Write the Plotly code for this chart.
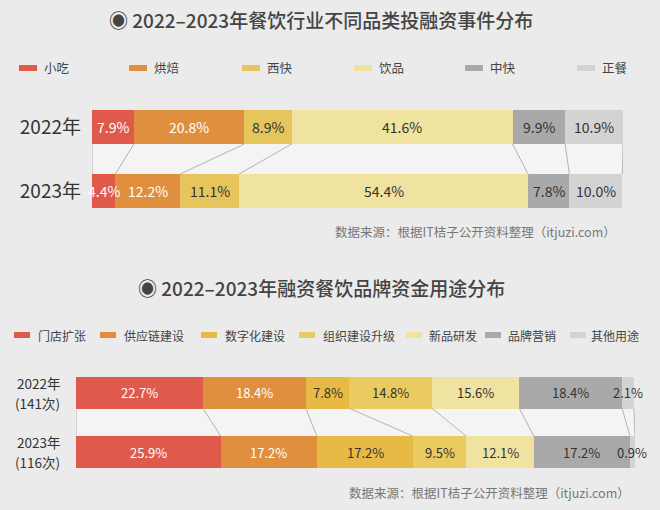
import plotly.graph_objects as go

# ---------------- data ----------------
years1 = ["2022年", "2023年"]
cats1 = ["小吃", "烘焙", "西快", "饮品", "中快", "正餐"]
vals1_2022 = [7.9, 20.8, 8.9, 41.6, 9.9, 10.9]
vals1_2023 = [4.4, 12.2, 11.1, 54.4, 7.8, 10.0]

years2 = ["2022年", "2023年"]
counts2 = ["(141次)", "(116次)"]
cats2 = ["门店扩张", "供应链建设", "数字化建设", "组织建设升级", "新品研发", "品牌营销", "其他用途"]
vals2_2022 = [22.7, 18.4, 7.8, 14.8, 15.6, 18.4, 2.1]
vals2_2023 = [25.9, 17.2, 17.2, 9.5, 12.1, 17.2, 0.9]

title1 = "◉ 2022–2023年餐饮行业不同品类投融资事件分布"
title2 = "◉ 2022–2023年融资餐饮品牌资金用途分布"
source = "数据来源：根据IT桔子公开资料整理（itjuzi.com）"

# ---------------- styles ----------------
W, H = 660, 510
FONT = "Noto Sans CJK SC"
BG = "#ebebeb"
BAND = "#f4f4f4"
LINE = "#b3b3b3"
colors1 = ["#df5a4b", "#e08f3e", "#e6c55c", "#efe39f", "#a9a9a9", "#d3d3d3"]
colors2 = ["#df5a4b", "#e08f3e", "#e7b945", "#eacb60", "#f0e2a0", "#a9a9a9", "#d3d3d3"]
txt1 = ["white", "white", "#333", "#333", "#333", "#333"]
txt2 = ["white", "white", "#333", "#333", "#333", "#333", "#333"]
BW = 0.53


def px(x):
    return x / W


def py(y):
    return 1 - y / H


fig = go.Figure()
shapes = []
annotations = []


def build(years, cats, v_a, v_b, colors, tcolors, xa, ya, fsize):
    for i, c in enumerate(cats):
        fig.add_trace(go.Bar(
            y=years, x=[v_a[i], v_b[i]], orientation="h", name=c,
            marker=dict(color=colors[i], line=dict(width=0)),
            width=BW, xaxis=xa, yaxis=ya, showlegend=False,
            hovertemplate=c + " %{y}: %{x}%<extra></extra>",
        ))
    for row, vals in enumerate([v_a, v_b]):
        cum = 0
        for i, v in enumerate(vals):
            annotations.append(dict(
                x=cum + v / 2, y=row, xref=xa, yref=ya,
                text=f"{v:.1f}%", showarrow=False,
                font=dict(family=FONT, size=fsize, color=tcolors[i]),
            ))
            cum += v
    shapes.append(dict(type="rect", xref=xa, yref=ya, x0=0, x1=100,
                       y0=BW / 2, y1=1 - BW / 2, fillcolor=BAND,
                       line=dict(width=0), layer="below"))
    ca, cb = [0], [0]
    for v in v_a:
        ca.append(ca[-1] + v)
    for v in v_b:
        cb.append(cb[-1] + v)
    for a, b in zip(ca, cb):
        shapes.append(dict(type="line", xref=xa, yref=ya, x0=a, x1=b,
                           y0=BW / 2, y1=1 - BW / 2,
                           line=dict(color=LINE, width=1)))


build(years1, cats1, vals1_2022, vals1_2023, colors1, txt1, "x", "y", 14)
build(years2, cats2, vals2_2022, vals2_2023, colors2, txt2, "x2", "y2", 13)

# two-line year labels of the second chart
for row, (yr, cnt) in enumerate(zip(years2, counts2)):
    for text, shift in [(yr, 10), (cnt, -10)]:
        annotations.append(dict(x=px(62), y=row, xref="paper", yref="y2", yshift=shift,
                                text=text, showarrow=False, xanchor="right", yanchor="middle",
                                font=dict(family=FONT, size=13.5, color="#333333")))

# ---------------- titles / legends / sources ----------------
for t, yy in [(title1, 20), (title2, 287)]:
    annotations.append(dict(x=px(321), y=py(yy), xref="paper", yref="paper",
                            text=t, showarrow=False, xanchor="center", yanchor="middle",
                            font=dict(family=FONT, size=19, color="#444444", weight=500)))

leg1_sw = [19, 129, 242, 354, 465, 577]
for i, c in enumerate(cats1):
    x0 = leg1_sw[i]
    shapes.append(dict(type="rect", xref="paper", yref="paper",
                       x0=px(x0), x1=px(x0 + 18), y0=py(71), y1=py(65),
                       fillcolor=colors1[i], line=dict(width=0)))
    annotations.append(dict(x=px(x0 + 23), y=py(68), xref="paper", yref="paper",
                            text=c, showarrow=False, xanchor="left", yanchor="middle",
                            font=dict(family=FONT, size=12.5, color="#444444")))

leg2_sw = [14, 100, 201, 299, 406, 485, 570]
leg2_tx = [36, 122, 223, 321, 427, 506, 589]
for i, c in enumerate(cats2):
    x0 = leg2_sw[i]
    shapes.append(dict(type="rect", xref="paper", yref="paper",
                       x0=px(x0), x1=px(x0 + 16), y0=py(338), y1=py(332),
                       fillcolor=colors2[i], line=dict(width=0)))
    annotations.append(dict(x=px(leg2_tx[i]), y=py(335), xref="paper", yref="paper",
                            text=c, showarrow=False, xanchor="left", yanchor="middle",
                            font=dict(family=FONT, size=12, color="#444444")))

for xx, yy in [(618, 232), (632, 492)]:
    annotations.append(dict(x=px(xx), y=py(yy), xref="paper", yref="paper",
                            text=source, showarrow=False, xanchor="right", yanchor="middle",
                            font=dict(family=FONT, size=12.5, color="#777777")))

# ---------------- axes ----------------
ax_common = dict(showgrid=False, zeroline=False, showline=False, fixedrange=True)
fig.update_layout(
    width=W, height=H, margin=dict(l=0, r=0, t=0, b=0),
    paper_bgcolor=BG, plot_bgcolor="rgba(0,0,0,0)",
    barmode="stack", bargap=0,
    font=dict(family=FONT),
    xaxis=dict(domain=[px(92), px(623)], range=[0, 100], visible=False, **ax_common),
    yaxis=dict(domain=[py(223), py(95)], range=[1.5, -0.5], type="category",
               categoryarray=years1, ticks="", ticklabelstandoff=10,
               tickfont=dict(family=FONT, size=19, color="#333333"), **ax_common),
    xaxis2=dict(domain=[px(76), px(635)], range=[0, 100], visible=False,
                anchor="y2", **ax_common),
    yaxis2=dict(domain=[py(481.75), py(362.75)], range=[1.5, -0.5], type="category",
                categoryarray=years2, anchor="x2", showticklabels=False, **ax_common),
    shapes=shapes, annotations=annotations,
)

fig.write_html(
    "out.html",
    config={"displayModeBar": False},
    post_script="document.body.style.margin='0';document.body.style.overflow='hidden';"
                "document.body.style.background='" + BG + "';",
)
